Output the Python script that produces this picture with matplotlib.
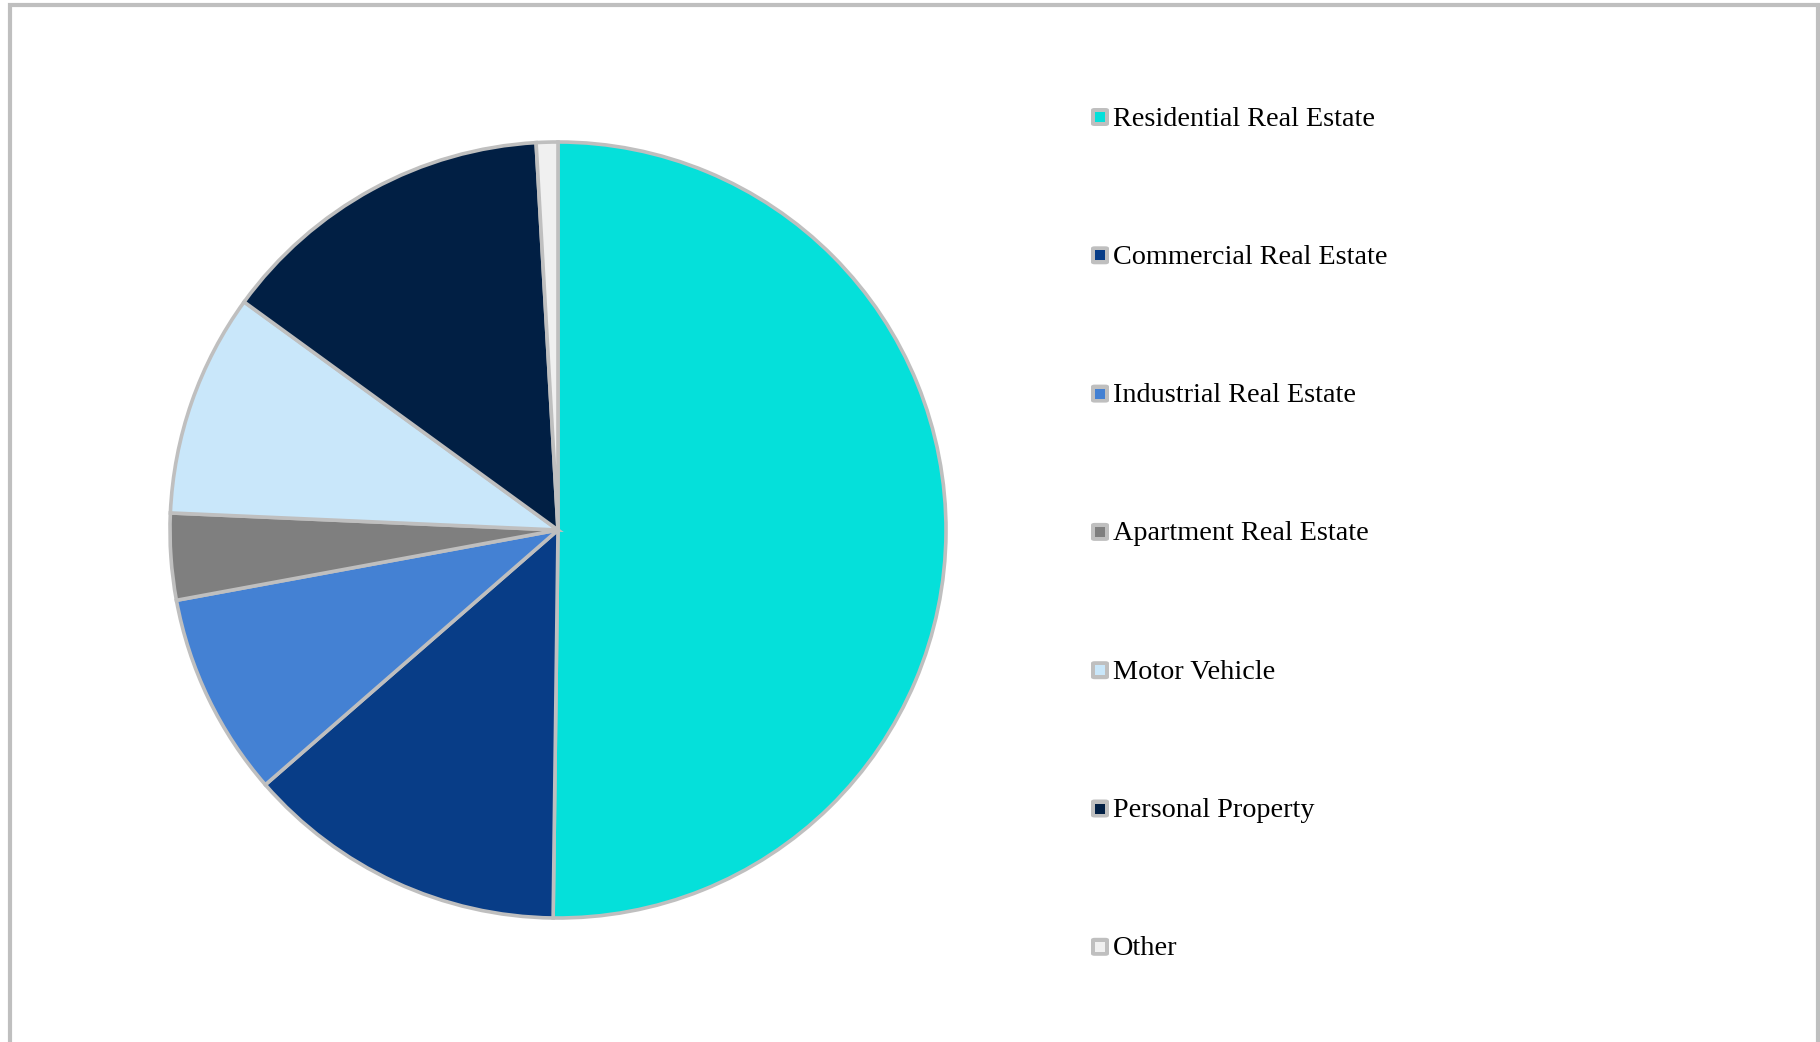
import matplotlib
matplotlib.use('Agg')
import matplotlib.pyplot as plt
from matplotlib.patches import Rectangle, FancyBboxPatch

labels = ['Residential Real Estate', 'Commercial Real Estate', 'Industrial Real Estate',
          'Apartment Real Estate', 'Motor Vehicle', 'Personal Property', 'Other']
shares = [50.2, 13.4, 8.5, 3.6, 9.3, 14.1, 0.9]
colors = ['#05E0DA', '#083D87', '#4481D3', '#7F7F7F', '#C9E7FA', '#011F44', '#F0F0F0']

W, H = 1820, 1042
fig = plt.figure(figsize=(W / 100, H / 100), dpi=100)
fig.patch.set_facecolor('white')

# pie centre and radius in pixels
cx, cy, r = 558, 530, 388
pad = 1.05
ax = fig.add_axes([(cx - r * pad) / W, (H - cy - r * pad) / H, 2 * r * pad / W, 2 * r * pad / H])
ax.pie(shares, colors=colors, startangle=90, counterclock=False,
       wedgeprops={'edgecolor': '#BFBFBF', 'linewidth': 2.6, 'joinstyle': 'miter'})
ax.set_xlim(-pad, pad)
ax.set_ylim(-pad, pad)
ax.set_aspect('equal')
ax.axis('off')

# legend, drawn by hand
x0, y0, step = 1100, 117, 138.3
for i, (lab, col) in enumerate(zip(labels, colors)):
    y = y0 + i * step
    fig.add_artist(FancyBboxPatch(((x0 - 9) / W, (H - y - 9) / H), 18 / W, 18 / H,
                                  boxstyle='round,pad=0,rounding_size=0.002',
                                  transform=fig.transFigure, facecolor='#BFBFBF', edgecolor='none'))
    fig.add_artist(Rectangle(((x0 - 5) / W, (H - y - 5) / H), 10 / W, 10 / H,
                             transform=fig.transFigure, facecolor=col, edgecolor='none'))
    fig.text((x0 + 13) / W, (H - y - 2) / H, lab, fontsize=20.3, family='Liberation Serif',
             va='center', ha='left', color='black')

# outer frame
fig.add_artist(Rectangle((10 / W, -0.02), (1818 - 10) / W, (H - 5) / H + 0.02,
                         transform=fig.transFigure, fill=False, edgecolor='#BFBFBF', linewidth=3))

fig.savefig('out.png', dpi=100)
